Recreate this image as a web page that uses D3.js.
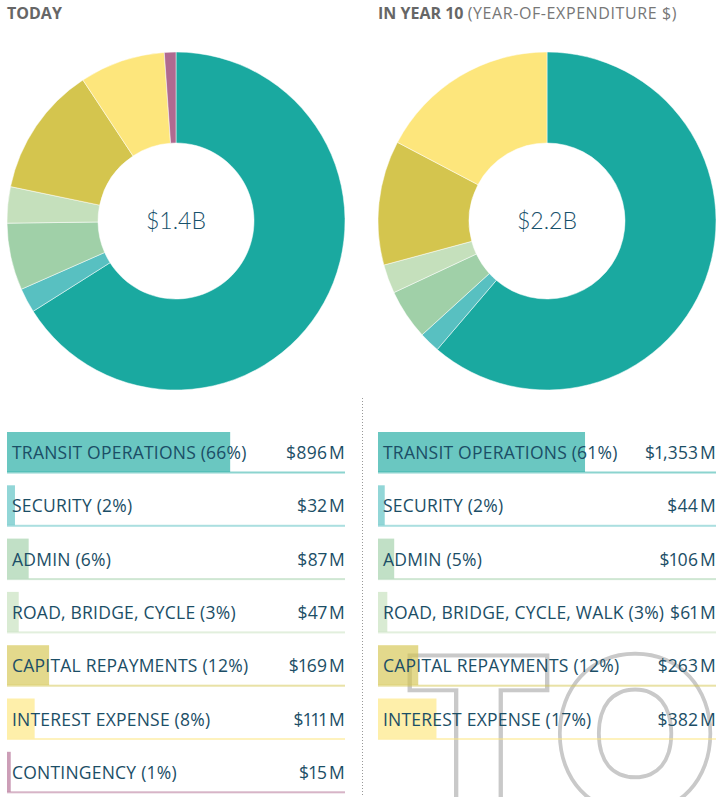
<!DOCTYPE html>
<html><head><meta charset="utf-8">
<script src="https://cdn.jsdelivr.net/npm/d3@7"></script>
<style>
html,body{margin:0;padding:0;background:#fff;}
svg{display:block;}
.val{font-variant-numeric:proportional-nums;font-feature-settings:"pnum" 1;}
</style></head>
<body>
<svg id="chart" width="716" height="797"></svg>
<script>
const categories = ["TRANSIT OPERATIONS","SECURITY","ADMIN","ROAD, BRIDGE, CYCLE","CAPITAL REPAYMENTS","INTEREST EXPENSE","CONTINGENCY"];
const categoriesYear10 = ["TRANSIT OPERATIONS","SECURITY","ADMIN","ROAD, BRIDGE, CYCLE, WALK","CAPITAL REPAYMENTS","INTEREST EXPENSE"];
const todayValues = [896, 32, 87, 47, 169, 111, 15];
const todayPct = [66, 2, 6, 3, 12, 8, 1];
const year10Values = [1353, 44, 106, 61, 263, 382];
const year10Pct = [61, 2, 5, 3, 12, 17];
const colors = ["#1aa9a0","#58c0c1","#a0d0a8","#c5e0bc","#d4c54e","#fde67c","#b06a90"];
const totals = ["$1.4B","$2.2B"];
const watermark = ["T","O"];

const svg = d3.select("#chart");
const labelColor = "#1b4e66";

// watermark (outlined heavy letters)
const wm = svg.append("g");
const wmSpecs = [
  {t:watermark[0], tr:"translate(412.2,806) scale(1.09,1)", anchor:"start"},
  {t:watermark[1], tr:"translate(635,806) scale(0.94,1)", anchor:"middle"}
];
const d = 5.3;
wmSpecs.forEach(s=>{
  wm.append("text").attr("transform",s.tr).attr("text-anchor",s.anchor)
    .attr("font-family","Lato").attr("font-weight",900).attr("font-size",201)
    .attr("fill","#c9c9c9").attr("stroke","#c9c9c9").attr("stroke-width",2*(d+2))
    .text(s.t);
});
wmSpecs.forEach(s=>{
  wm.append("text").attr("transform",s.tr).attr("text-anchor",s.anchor)
    .attr("font-family","Lato").attr("font-weight",900).attr("font-size",201)
    .attr("fill","#fff").attr("stroke","#fff").attr("stroke-width",2*(d-2))
    .attr("aria-hidden","true")
    .text(s.t);
});

// divider
svg.append("line").attr("x1",362.5).attr("x2",362.5).attr("y1",398).attr("y2",797)
  .attr("stroke","#999").attr("stroke-width",1).attr("stroke-dasharray","1,2");

// titles
svg.append("text").attr("x",7).attr("y",19)
  .attr("font-family","Open Sans").attr("font-weight",700).attr("font-size",16)
  .attr("fill","#666").text("TODAY");
const t2 = svg.append("text").attr("x",378).attr("y",19)
  .attr("font-family","Open Sans").attr("font-size",16).attr("fill","#666");
t2.append("tspan").attr("font-weight",700).text("IN YEAR 10 ");
t2.append("tspan").attr("font-weight",400).attr("fill","#777").attr("letter-spacing",0.6).text("(YEAR-OF-EXPENDITURE $)");

const panels = [
  {cx:176, x0:7, names:categories, values:todayValues, pct:todayPct, total:totals[0]},
  {cx:547, x0:378, names:categoriesYear10, values:year10Values, pct:year10Pct, total:totals[1]}
];
const colW = 338;
const rowTop = 432, rowPitch = 53.3, rowH = 40;

panels.forEach(p => {
  const g = svg.append("g").attr("transform",`translate(${p.cx},221)`);
  const pie = d3.pie().sort(null).value(v=>v)(p.values);
  const arc = d3.arc().innerRadius(78).outerRadius(169);
  g.selectAll("path").data(pie).join("path")
    .attr("d",arc).attr("fill",(e,i)=>colors[i])
    .attr("stroke","#fff").attr("stroke-width",0.5);
  g.append("text").attr("text-anchor","middle").attr("y",8)
    .attr("font-family","Lato").attr("font-weight",300).attr("font-size",23)
    .attr("fill","#17506a").text(p.total);

  const sum = d3.sum(p.values);
  const x = d3.scaleLinear().domain([0,sum]).range([0,colW]);
  const rows = svg.append("g");
  p.values.forEach((v,i)=>{
    const y = rowTop + i*rowPitch;
    rows.append("rect").attr("x",p.x0).attr("y",y).attr("width",Math.max(x(v),3)).attr("height",rowH)
      .attr("fill",colors[i]).attr("fill-opacity",0.65);
    rows.append("rect").attr("x",p.x0).attr("y",y+rowH-0.5).attr("width",colW).attr("height",2)
      .attr("fill",colors[i]).attr("fill-opacity",0.5);
    rows.append("text").attr("x",p.x0+5).attr("y",y+27)
      .attr("font-family","Open Sans").attr("font-size",17.5).attr("fill",labelColor)
      .attr("letter-spacing",0.22)
      .text(`${p.names[i]} (${p.pct[i]}%)`);
    rows.append("text").attr("class","val").attr("x",p.x0+colW).attr("y",y+27).attr("text-anchor","end")
      .attr("font-family","Open Sans").attr("font-size",17.5).attr("fill",labelColor)
      .attr("letter-spacing",0.2)
      .text(`$${d3.format(",")(v)}\u200AM`);
  });
});
</script>
</body></html>
